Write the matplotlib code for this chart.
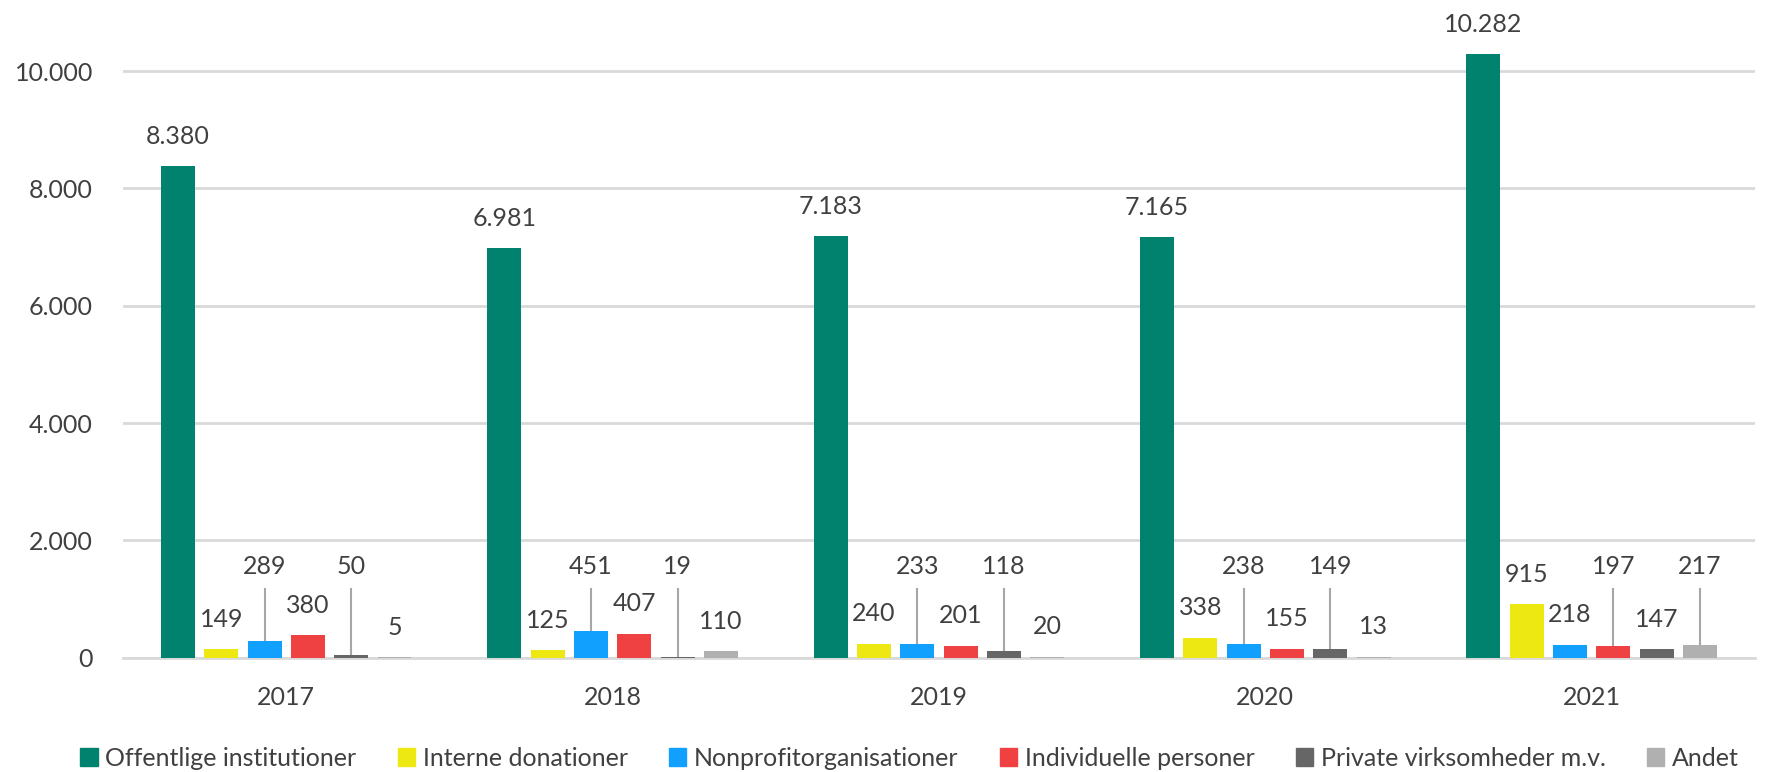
import matplotlib.pyplot as plt
import numpy as np
from matplotlib.ticker import FuncFormatter
from matplotlib.patches import Patch

years = ["2017", "2018", "2019", "2020", "2021"]
series = ["Offentlige institutioner", "Interne donationer", "Nonprofitorganisationer",
          "Individuelle personer", "Private virksomheder m.v.", "Andet"]
offentlige = [8380, 6981, 7183, 7165, 10282]
interne = [149, 125, 240, 338, 915]
nonprofit = [289, 451, 233, 238, 218]
individuelle = [380, 407, 201, 155, 197]
private = [50, 19, 118, 149, 147]
andet = [5, 110, 20, 13, 217]
values = [offentlige, interne, nonprofit, individuelle, private, andet]

colors = ["#00826F", "#EEE812", "#12A0FF", "#F04142", "#666666", "#B0B0B0"]
# labels lifted up with a leader line (series index per year)
lifted = [[2, 4], [2, 4], [2, 4], [2, 4], [3, 5]]

txt = "#404040"
plt.rcParams['font.family'] = ['Lato', 'DejaVu Sans']
plt.rcParams['font.size'] = 18

fig = plt.figure(figsize=(17.75, 7.72), dpi=100)
ax = fig.add_axes([0.0693, 0.148, 0.9194, 0.8208])

x = np.arange(len(years))
pitch = 0.1327
width = 0.104
lift_y = 1560
line_top = 1188

for i, (vals, col) in enumerate(zip(values, colors)):
    xs = x + (i - 2.5) * pitch
    ax.bar(xs, vals, width, color=col, zorder=3)
    for j, (xx, v) in enumerate(zip(xs, vals)):
        lab = f"{v:,}".replace(",", ".")
        if i in lifted[j]:
            ax.vlines(xx, v, line_top, color="#A6A6A6", lw=1.5, zorder=2)
            ax.text(xx, lift_y, lab, ha="center", va="center", color=txt, fontsize=18)
        else:
            ax.annotate(lab, (xx, v), xytext=(0, 21.6), textcoords="offset points",
                        ha="center", va="center", color=txt, fontsize=18)

ax.set_xlim(-0.5, 4.5)
ax.set_ylim(0, 10800)
ax.set_yticks([0, 2000, 4000, 6000, 8000, 10000])
ax.yaxis.set_major_formatter(FuncFormatter(lambda v, p: f"{int(v):,}".replace(",", ".")))
ax.set_xticks(x)
ax.set_xticklabels(years)
ax.grid(axis="y", color="#D9D9D9", lw=2, zorder=0)
for s in ["top", "right", "left"]:
    ax.spines[s].set_visible(False)
ax.spines["bottom"].set_color("#D9D9D9")
ax.spines["bottom"].set_linewidth(2)
ax.tick_params(axis="y", length=0, pad=21.6, colors=txt, labelsize=18)
ax.tick_params(axis="x", length=0, pad=20, colors=txt, labelsize=18)

handles = [Patch(color=c, label=s) for c, s in zip(colors, series)]
fig.legend(handles=handles, loc="center", bbox_to_anchor=(0.5124, 0.018), ncol=6,
           frameon=False, fontsize=18, handlelength=0.7, handleheight=0.7,
           handletextpad=0.3, columnspacing=1.65, labelcolor=txt)

plt.savefig("out.png", dpi=100)
